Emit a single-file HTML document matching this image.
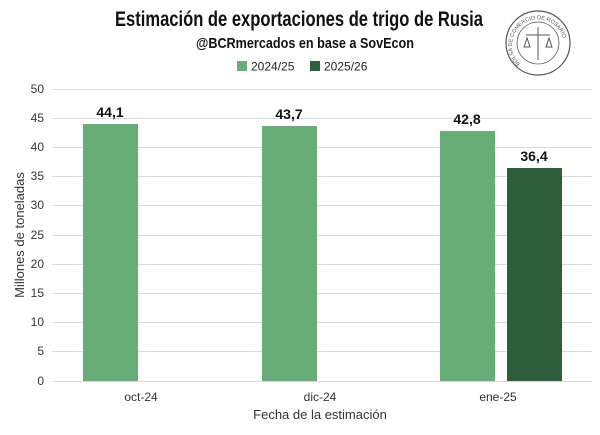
<!DOCTYPE html>
<html><head><meta charset="utf-8"><style>body{margin:0;background:#fff}svg{display:block}</style></head><body>
<svg width="600" height="435" xmlns="http://www.w3.org/2000/svg" font-family="Liberation Sans, sans-serif">
<rect width="600" height="435" fill="#fff"/>
<text x="115" y="26" textLength="368" lengthAdjust="spacingAndGlyphs" font-weight="bold" font-size="21" fill="#111">Estimación de exportaciones de trigo de Rusia</text>
<text x="196" y="48" textLength="218" lengthAdjust="spacingAndGlyphs" font-weight="bold" font-size="15" fill="#111">@BCRmercados en base a SovEcon</text>
<rect x="237" y="61" width="10" height="10" fill="#68ac78"/>
<text x="251" y="70.5" font-size="12" fill="#222">2024/25</text>
<rect x="310" y="61" width="10" height="10" fill="#2e5e3c"/>
<text x="324" y="70.5" font-size="12" fill="#222">2025/26</text>
<g stroke="#d9d9d9" stroke-width="1">
<line x1="52" x2="592" y1="89.5" y2="89.5"/><line x1="52" x2="592" y1="118.5" y2="118.5"/><line x1="52" x2="592" y1="147.5" y2="147.5"/><line x1="52" x2="592" y1="176.5" y2="176.5"/><line x1="52" x2="592" y1="205.5" y2="205.5"/><line x1="52" x2="592" y1="235.5" y2="235.5"/><line x1="52" x2="592" y1="264.5" y2="264.5"/><line x1="52" x2="592" y1="293.5" y2="293.5"/><line x1="52" x2="592" y1="322.5" y2="322.5"/><line x1="52" x2="592" y1="351.5" y2="351.5"/><line x1="52" x2="592" y1="381.5" y2="381.5"/>
</g>
<g font-size="12" fill="#333" text-anchor="end">
<text x="44" y="93">50</text><text x="44" y="122">45</text><text x="44" y="151">40</text><text x="44" y="180">35</text><text x="44" y="209">30</text><text x="44" y="239">25</text><text x="44" y="268">20</text><text x="44" y="297">15</text><text x="44" y="326">10</text><text x="44" y="355">5</text><text x="44" y="385">0</text>
</g>
<rect x="83" y="124" width="55" height="257" fill="#68ac78"/>
<rect x="262" y="126" width="55" height="255" fill="#68ac78"/>
<rect x="440" y="131" width="55" height="250" fill="#68ac78"/>
<rect x="507" y="168" width="55" height="213" fill="#2e5e3c"/>
<g font-size="14" font-weight="bold" fill="#111" text-anchor="middle">
<text x="110" y="117">44,1</text><text x="289" y="119">43,7</text><text x="467" y="124">42,8</text><text x="534" y="161">36,4</text>
</g>
<g font-size="12" fill="#333" text-anchor="middle">
<text x="141" y="401">oct-24</text><text x="320" y="401">dic-24</text><text x="498" y="401">ene-25</text>
</g>
<text x="320" y="419" text-anchor="middle" font-size="13" fill="#333">Fecha de la estimación</text>
<text transform="translate(24,235) rotate(-90)" text-anchor="middle" font-size="13" fill="#333">Millones de toneladas</text>
<defs><path id="arc" d="M520 64 A26 26 0 1 1 556 64"/></defs>
<g fill="none" stroke="#555">
<circle cx="538" cy="43" r="32" stroke-width="1.2"/>
<circle cx="538" cy="43" r="21" stroke-width="0.8"/>
<line x1="538" y1="27" x2="538" y2="60"/>
<line x1="526" y1="35" x2="550" y2="35"/>
<path d="M524 47 l3 -9 l3 9 z M546 47 l3 -9 l3 9 z"/>
</g>
<text font-size="5.5" fill="#555"><textPath href="#arc">BOLSA DE COMERCIO DE ROSARIO</textPath></text>
</svg>
</body></html>
